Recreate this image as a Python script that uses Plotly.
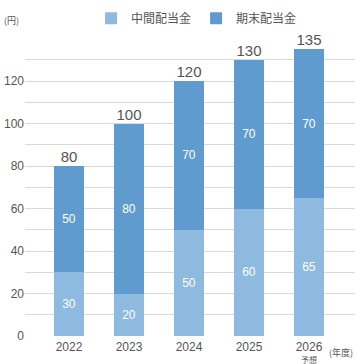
import plotly.graph_objects as go

years = ["2022", "2023", "2024", "2025", "2026"]
tick_labels = ["2022", "2023", "2024", "2025", "2026"]
forecast_note = "予想"
interim = [30, 20, 50, 60, 65]
year_end = [50, 80, 70, 70, 70]
totals = [80, 100, 120, 130, 135]

light = "#8dbade"
dark = "#5f9bcf"
num_font = "Liberation Sans, Arial, sans-serif"
jp_font = "Noto Sans CJK JP, sans-serif"

fig = go.Figure()
fig.add_trace(go.Bar(
    x=years, y=interim, name="中間配当金", marker_color=light, marker_line_width=0,
    text=[str(v) for v in interim], textposition="inside", insidetextanchor="middle",
    textfont=dict(color="white", size=12, family=num_font), textangle=0,
))
fig.add_trace(go.Bar(
    x=years, y=year_end, name="期末配当金", marker_color=dark, marker_line_width=0,
    text=[str(v) for v in year_end], textposition="inside", insidetextanchor="middle",
    textfont=dict(color="white", size=12, family=num_font), textangle=0,
))
fig.add_trace(go.Scatter(
    x=years, y=totals, mode="text", text=[str(v) for v in totals],
    textposition="top center", textfont=dict(color="#555555", size=15, family=num_font),
    showlegend=False, cliponaxis=False, hoverinfo="skip",
))

fig.update_layout(
    width=359, height=364,
    barmode="stack", bargap=0.5,
    margin=dict(l=25, r=4, t=38, b=28),
    plot_bgcolor="white", paper_bgcolor="white",
    font=dict(family=jp_font, color="#555555"),
    legend=dict(orientation="h", x=0.52, xanchor="center", y=1.15, yanchor="top",
                yref="paper", traceorder="normal",
                font=dict(size=12, family=jp_font, color="#555555"),
                tracegroupgap=0, itemwidth=30),
    showlegend=True,
)
fig.update_xaxes(
    type="category", range=[-0.733, 4.767], showgrid=False, zeroline=False,
    tickmode="array", tickvals=years, ticktext=tick_labels,
    tickfont=dict(size=12, family=num_font, color="#555555"),
    ticks="", showline=False, automargin=False, ticklabelstandoff=2,
)
fig.update_yaxes(
    range=[0, 136], dtick=20, tick0=0, showgrid=True, gridcolor="#d9d9d9", gridwidth=1,
    minor=dict(dtick=10, showgrid=True, gridcolor="#d9d9d9", gridwidth=1),
    zeroline=False, showline=False, ticks="", automargin=False,
    tickfont=dict(size=12, family=num_font, color="#555555"), ticklabelstandoff=0,
)
fig.add_annotation(text="(円)", xref="paper", yref="paper", x=-0.07, y=1.121,
                   xanchor="left", yanchor="top", showarrow=False,
                   font=dict(size=9, family=jp_font, color="#555555"))
fig.add_annotation(text="(年度)", xref="paper", yref="paper", x=1.0, y=-0.028,
                   xanchor="right", yanchor="top", showarrow=False,
                   font=dict(size=9, family=jp_font, color="#555555"))
fig.add_annotation(text=forecast_note, xref="x", yref="paper", x=4, y=-0.056,
                   xanchor="center", yanchor="top", showarrow=False,
                   font=dict(size=8, family=jp_font, color="#555555"))

fig.write_html("out.html", config={"displayModeBar": False},
               post_script="document.body.style.margin='0';document.body.style.padding='0';")
